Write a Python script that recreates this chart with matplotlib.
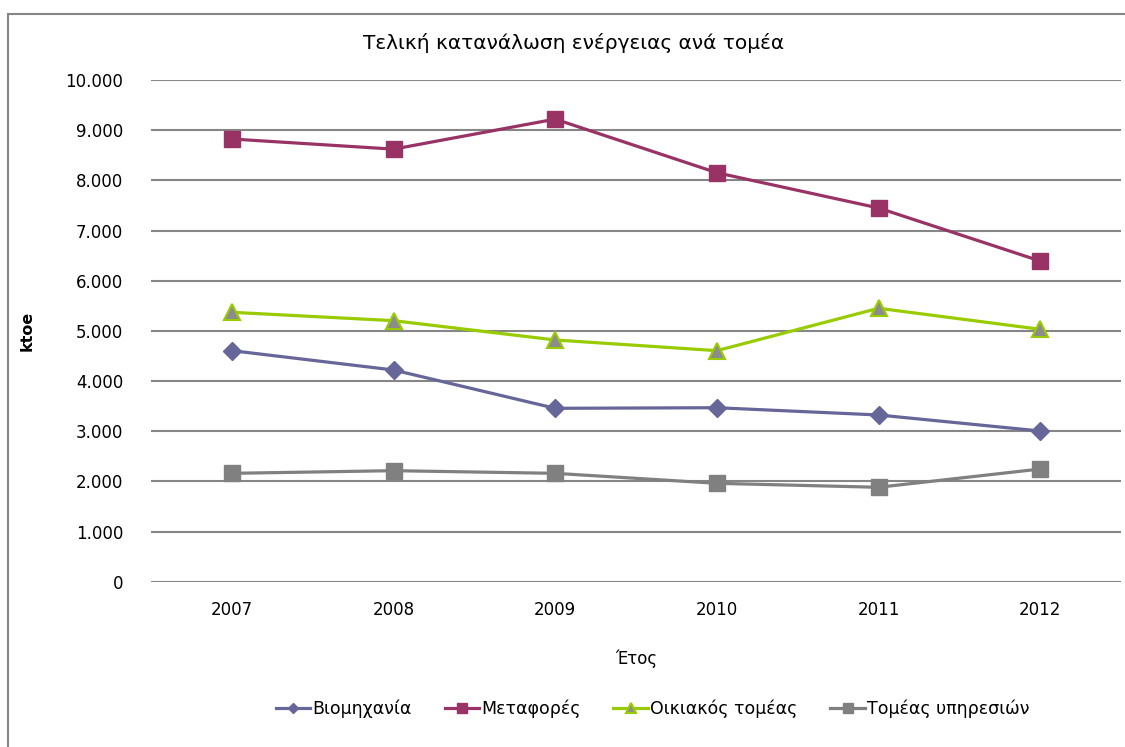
import numpy as np
import matplotlib.pyplot as plt
from matplotlib.patches import Rectangle
from matplotlib.ticker import FuncFormatter

years = ['2007', '2008', '2009', '2010', '2011', '2012']
industry = [4605, 4220, 3456, 3468, 3323, 3004]
transport = [8824, 8622, 9220, 8152, 7449, 6392]
household = [5370, 5203, 4818, 4605, 5450, 5031]
services = [2160, 2213, 2160, 1961, 1882, 2246]

labels = ['Βιομηχανία', 'Μεταφορές', 'Οικιακός τομέας', 'Τομέας υπηρεσιών']

fig = plt.figure(figsize=(11.25, 7.47), dpi=100)
ax = fig.add_axes([151/1125, 1 - 581.7/747, (1121 - 151)/1125, (581.7 - 80)/747])

# outer chart border (cropped on right and bottom)
fig.patches.append(Rectangle((8/1125, -0.1), 1.2, 1.1 - 14/747, transform=fig.transFigure,
                             fill=False, edgecolor='#868686', linewidth=1.5))

x = np.arange(len(years))
ax.plot(x, industry, color='#666699', lw=2.3, marker='D', ms=9, label=labels[0])
ax.plot(x, transport, color='#993366', lw=2.3, marker='s', ms=11, label=labels[1])
ax.plot(x, household, color='#99CC00', lw=2.3, marker='^', ms=11,
        markerfacecolor='#8c8c8c', markeredgecolor='#99CC00', markeredgewidth=1.5, label=labels[2])
ax.plot(x, services, color='#808080', lw=2.3, marker='s', ms=11, label=labels[3])

ax.set_xlim(-0.5, len(years) - 0.5)
ax.set_ylim(0, 10000)
ax.set_yticks(np.arange(0, 10001, 1000))
ax.yaxis.set_major_formatter(FuncFormatter(lambda v, p: f'{int(v):,}'.replace(',', '.')))
ax.set_xticks(x)
ax.set_xticklabels(years)
ax.grid(axis='y', color='#868686', lw=1.5)
ax.set_axisbelow(True)
for s in ['top', 'right', 'left', 'bottom']:
    ax.spines[s].set_visible(False)
ax.tick_params(length=0, labelsize=12, pad=14)
ax.tick_params(axis='y', pad=20)

ax.set_ylabel('ktoe', fontsize=11.5, fontweight='bold', labelpad=22)
ax.set_xlabel('Έτος', fontsize=12, labelpad=22)
fig.text(574/1125, 1 - 43/747, 'Τελική κατανάλωση ενέργειας ανά τομέα', ha='center', va='center',
         fontsize=14.5)

fig.legend(loc='center', bbox_to_anchor=(0.58, 1 - 709/747), ncol=4, frameon=False,
           fontsize=12.5, handlelength=2.0, handletextpad=0.1, columnspacing=1.9, markerscale=0.6)

fig.savefig('out.png', dpi=100)
